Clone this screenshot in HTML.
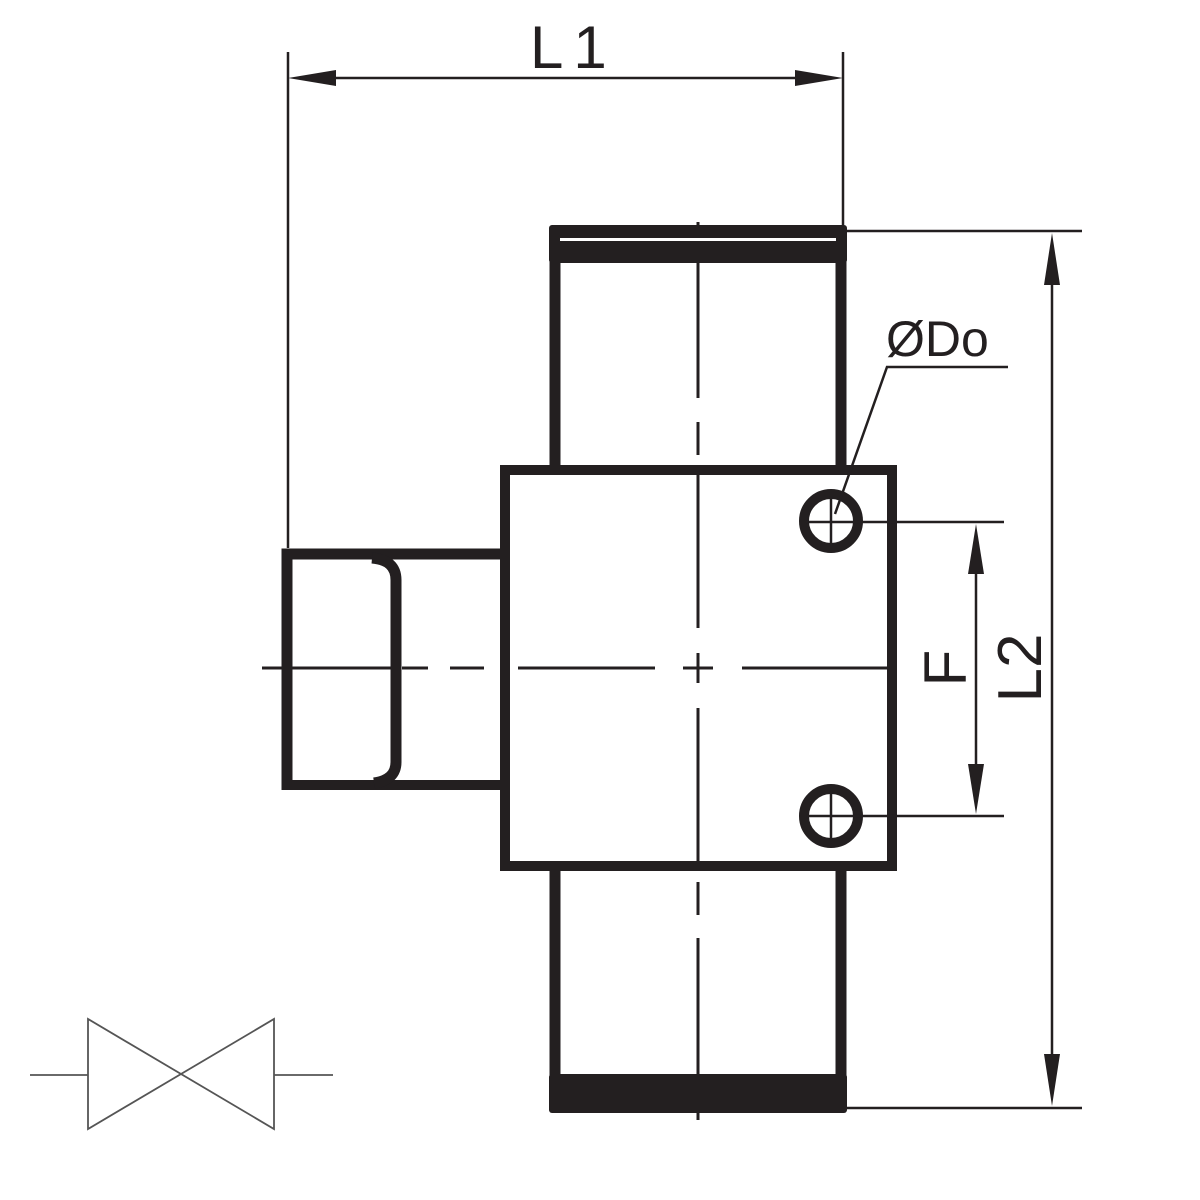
<!DOCTYPE html>
<html><head><meta charset="utf-8"><style>html,body{margin:0;padding:0;background:#fff}svg{display:block}</style></head>
<body>
<svg width="1200" height="1200" viewBox="0 0 1200 1200" xmlns="http://www.w3.org/2000/svg">
<g fill="none" stroke="#231f20" stroke-linecap="butt">
<!-- upper pipe -->
<line x1="555" y1="230" x2="555" y2="466" stroke-width="11"/>
<line x1="841" y1="230" x2="841" y2="466" stroke-width="11"/>
<!-- lower pipe -->
<line x1="555" y1="870" x2="555" y2="1110" stroke-width="11"/>
<line x1="841" y1="870" x2="841" y2="1110" stroke-width="11"/>
<!-- main box -->
<rect x="505" y="470" width="387" height="396" stroke-width="10"/>
<!-- centerlines -->
<path d="M698 222 V398 M698 422 V455 M698 475 V628 M698 653 V683 M698 708 V862 M698 882 V915 M698 938 V1120" stroke-width="3"/>
<path d="M262 668 H400 M402 668 H428 M450 668 H484 M518 668 H655 M683 668 H713 M742 668 H893" stroke-width="3"/>
<!-- left stub -->
<path d="M287 790 L287 554 L505 554" stroke-width="11"/>
<path d="M287 785 L505 785" stroke-width="10"/>
<path d="M372 558 Q396 560 396 580 L396 762 Q396 780 374 783" stroke-width="11"/>
<!-- holes -->
<circle cx="831" cy="521" r="27" stroke-width="10"/>
<circle cx="831" cy="816" r="27" stroke-width="10"/>
<line x1="831" y1="496" x2="831" y2="546" stroke-width="2.5"/>
<line x1="831" y1="791" x2="831" y2="841" stroke-width="2.5"/>
<line x1="806" y1="522" x2="1004" y2="522" stroke-width="2.5"/>
<line x1="806" y1="816" x2="1004" y2="816" stroke-width="2.5"/>
<!-- leader -->
<polyline points="835,514 887,367 1008,367" stroke-width="2.5"/>
<!-- dim lines -->
<line x1="288" y1="52" x2="288" y2="548" stroke-width="2.5"/>
<line x1="843" y1="52" x2="843" y2="228" stroke-width="2.5"/>
<line x1="300" y1="78" x2="832" y2="78" stroke-width="2.5"/>
<line x1="847" y1="231" x2="1082" y2="231" stroke-width="2.5"/>
<line x1="847" y1="1108" x2="1082" y2="1108" stroke-width="2.5"/>
<line x1="1052" y1="245" x2="1052" y2="1095" stroke-width="2.5"/>
<line x1="976" y1="540" x2="976" y2="800" stroke-width="2.5"/>
<!-- valve -->
<g stroke="#555" stroke-width="1.8">
<line x1="30" y1="1075" x2="88" y2="1075"/>
<line x1="274" y1="1075" x2="333" y2="1075"/>
<polygon points="88,1019 88,1129 274,1019 274,1129"/>
</g>
</g>
<g fill="#231f20">
<rect x="549" y="225" width="298" height="38" rx="3"/>
<rect x="560" y="238" width="276" height="3" fill="#fff"/>
<rect x="549" y="1074" width="298" height="39" rx="3"/>
<polygon points="288,78 336,70 336,86"/>
<polygon points="843,78 795,70 795,86"/>
<polygon points="1052,233 1044,285 1060,285"/>
<polygon points="1052,1106 1044,1054 1060,1054"/>
<polygon points="976,524 968,574 984,574"/>
<polygon points="976,814 968,764 984,764"/>
</g>
<g font-family="Liberation Sans, sans-serif" fill="#231f20">
<text x="530" y="68" font-size="60">L<tspan dx="10">1</tspan></text>
<text x="886" y="356" font-size="50">ØDo</text>
<text transform="translate(966,668) rotate(-90)" text-anchor="middle" font-size="60">F</text>
<text transform="translate(1041,668) rotate(-90)" text-anchor="middle" font-size="62">L2</text>
</g>
</svg>
</body></html>
